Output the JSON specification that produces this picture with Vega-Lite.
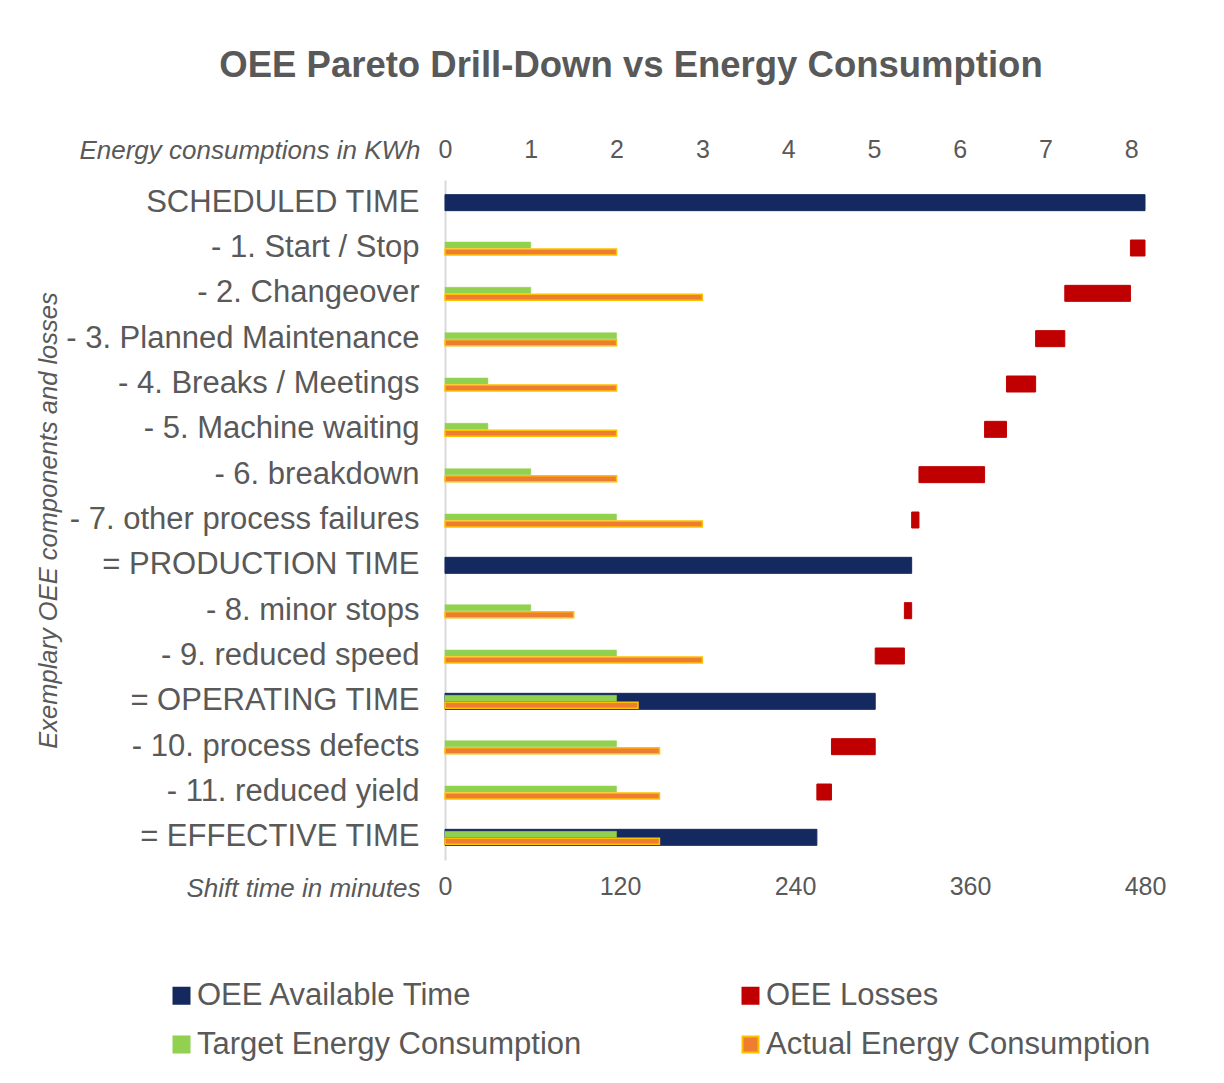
{
  "$schema": "https://vega.github.io/schema/vega-lite/v6.json",
  "autosize": {"type": "none"},
  "width": 700,
  "height": 680,
  "padding": {"left": 445, "top": 180, "right": 79, "bottom": 223},
  "background": "white",
  "title": {
    "text": "OEE Pareto Drill-Down vs Energy Consumption",
    "anchor": "middle",
    "frame": "group",
    "dx": -164,
    "offset": 53,
    "fontSize": 36.5,
    "font": "Liberation Sans",
    "fontWeight": "bold",
    "color": "#595959"
  },
  "config": {
    "view": {"stroke": null},
    "font": "Liberation Sans",
    "axis": {"labelColor": "#595959", "titleColor": "#595959", "grid": false, "labelFont": "Liberation Sans", "titleFont": "Liberation Sans"},
    "legend": {"labelFont": "Liberation Sans"}
  },
  "datasets": {
    "time": [
      {"cat": "SCHEDULED TIME", "series": "OEE Available Time", "start": 0, "end": 480},
      {"cat": "- 1. Start / Stop", "series": "OEE Losses", "start": 470, "end": 480},
      {"cat": "- 2. Changeover", "series": "OEE Losses", "start": 425, "end": 470},
      {"cat": "- 3. Planned Maintenance", "series": "OEE Losses", "start": 405, "end": 425},
      {"cat": "- 4. Breaks / Meetings", "series": "OEE Losses", "start": 385, "end": 405},
      {"cat": "- 5. Machine waiting", "series": "OEE Losses", "start": 370, "end": 385},
      {"cat": "- 6. breakdown", "series": "OEE Losses", "start": 325, "end": 370},
      {"cat": "- 7. other process failures", "series": "OEE Losses", "start": 320, "end": 325},
      {"cat": "= PRODUCTION TIME", "series": "OEE Available Time", "start": 0, "end": 320},
      {"cat": "- 8. minor stops", "series": "OEE Losses", "start": 315, "end": 320},
      {"cat": "- 9. reduced speed", "series": "OEE Losses", "start": 295, "end": 315},
      {"cat": "= OPERATING TIME", "series": "OEE Available Time", "start": 0, "end": 295},
      {"cat": "- 10. process defects", "series": "OEE Losses", "start": 265, "end": 295},
      {"cat": "- 11. reduced yield", "series": "OEE Losses", "start": 255, "end": 265},
      {"cat": "= EFFECTIVE TIME", "series": "OEE Available Time", "start": 0, "end": 255}
    ],
    "energy": [
      {"cat": "- 1. Start / Stop", "series": "Target Energy Consumption", "kwh": 1},
      {"cat": "- 1. Start / Stop", "series": "Actual Energy Consumption", "kwh": 2},
      {"cat": "- 2. Changeover", "series": "Target Energy Consumption", "kwh": 1},
      {"cat": "- 2. Changeover", "series": "Actual Energy Consumption", "kwh": 3},
      {"cat": "- 3. Planned Maintenance", "series": "Target Energy Consumption", "kwh": 2},
      {"cat": "- 3. Planned Maintenance", "series": "Actual Energy Consumption", "kwh": 2},
      {"cat": "- 4. Breaks / Meetings", "series": "Target Energy Consumption", "kwh": 0.5},
      {"cat": "- 4. Breaks / Meetings", "series": "Actual Energy Consumption", "kwh": 2},
      {"cat": "- 5. Machine waiting", "series": "Target Energy Consumption", "kwh": 0.5},
      {"cat": "- 5. Machine waiting", "series": "Actual Energy Consumption", "kwh": 2},
      {"cat": "- 6. breakdown", "series": "Target Energy Consumption", "kwh": 1},
      {"cat": "- 6. breakdown", "series": "Actual Energy Consumption", "kwh": 2},
      {"cat": "- 7. other process failures", "series": "Target Energy Consumption", "kwh": 2},
      {"cat": "- 7. other process failures", "series": "Actual Energy Consumption", "kwh": 3},
      {"cat": "- 8. minor stops", "series": "Target Energy Consumption", "kwh": 1},
      {"cat": "- 8. minor stops", "series": "Actual Energy Consumption", "kwh": 1.5},
      {"cat": "- 9. reduced speed", "series": "Target Energy Consumption", "kwh": 2},
      {"cat": "- 9. reduced speed", "series": "Actual Energy Consumption", "kwh": 3},
      {"cat": "= OPERATING TIME", "series": "Target Energy Consumption", "kwh": 2},
      {"cat": "= OPERATING TIME", "series": "Actual Energy Consumption", "kwh": 2.25},
      {"cat": "- 10. process defects", "series": "Target Energy Consumption", "kwh": 2},
      {"cat": "- 10. process defects", "series": "Actual Energy Consumption", "kwh": 2.5},
      {"cat": "- 11. reduced yield", "series": "Target Energy Consumption", "kwh": 2},
      {"cat": "- 11. reduced yield", "series": "Actual Energy Consumption", "kwh": 2.5},
      {"cat": "= EFFECTIVE TIME", "series": "Target Energy Consumption", "kwh": 2},
      {"cat": "= EFFECTIVE TIME", "series": "Actual Energy Consumption", "kwh": 2.5}
    ]
  },
  "encoding": {
    "y": {
      "field": "cat",
      "type": "nominal",
      "scale": {
        "domain": ["SCHEDULED TIME", "- 1. Start / Stop", "- 2. Changeover", "- 3. Planned Maintenance", "- 4. Breaks / Meetings", "- 5. Machine waiting", "- 6. breakdown", "- 7. other process failures", "= PRODUCTION TIME", "- 8. minor stops", "- 9. reduced speed", "= OPERATING TIME", "- 10. process defects", "- 11. reduced yield", "= EFFECTIVE TIME"],
        "paddingInner": 0,
        "paddingOuter": 0
      },
      "axis": {
        "domain": true,
        "domainColor": "#D9D9D9",
        "domainWidth": 2,
        "ticks": false,
        "tickSize": 0,
        "labelPadding": 26,
        "labelFontSize": 31,
        "labelLimit": 600,
        "labelColor": "#595959",
        "title": "Exemplary OEE components and losses",
        "titleFontStyle": "italic",
        "titleFontWeight": "normal",
        "titleFontSize": 25.5,
        "titleColor": "#595959",
        "titleX": -397,
        "titleY": 340,
        "titleAngle": -90,
        "titleAlign": "center",
        "titleBaseline": "middle"
      }
    },
    "fill": {
      "field": "series",
      "type": "nominal",
      "scale": {
        "domain": ["OEE Available Time", "Target Energy Consumption", "OEE Losses", "Actual Energy Consumption"],
        "range": ["#14295F", "#92D050", "#C00000", "#ED7D31"]
      },
      "legend": {
        "orient": "none",
        "legendX": -279,
        "legendY": 800,
        "columns": 2,
        "columnPadding": 153,
        "rowPadding": 17,
        "symbolType": "square",
        "symbolSize": 256,
        "symbolStrokeWidth": 2,
        "labelFontSize": 31,
        "labelColor": "#595959",
        "labelLimit": 600,
        "labelOffset": 0,
        "title": null
      }
    },
    "stroke": {
      "field": "series",
      "type": "nominal",
      "scale": {
        "domain": ["OEE Available Time", "Target Energy Consumption", "OEE Losses", "Actual Energy Consumption"],
        "range": ["#14295F", "#92D050", "#C00000", "#FFC000"]
      },
      "legend": {
        "orient": "none",
        "legendX": -279,
        "legendY": 800,
        "columns": 2,
        "columnPadding": 153,
        "rowPadding": 17,
        "symbolType": "square",
        "symbolSize": 256,
        "symbolStrokeWidth": 2,
        "labelFontSize": 31,
        "labelColor": "#595959",
        "labelLimit": 600,
        "labelOffset": 0,
        "title": null
      }
    }
  },
  "layer": [
    {
      "data": {"name": "time"},
      "mark": {"type": "bar", "size": 16, "strokeWidth": 1},
      "encoding": {
        "x": {
          "field": "start",
          "type": "quantitative",
          "scale": {"domain": [0, 480], "nice": false},
          "axis": {
            "orient": "bottom",
            "values": [0, 120, 240, 360, 480],
            "domain": false,
            "ticks": false,
            "tickSize": 0,
            "labelFlush": false,
            "labelPadding": 14,
            "labelFontSize": 25,
            "labelColor": "#595959",
            "title": "Shift time in minutes",
            "titleFontStyle": "italic",
            "titleFontWeight": "normal",
            "titleFontSize": 26,
            "titleColor": "#595959",
            "titleX": -25,
            "titleY": 28,
            "titleAngle": 0,
            "titleAlign": "right",
            "titleBaseline": "middle"
          }
        },
        "x2": {"field": "end"}
      }
    },
    {
      "data": {"name": "energy"},
      "transform": [{"filter": "datum.series === 'Target Energy Consumption'"}],
      "mark": {"type": "bar", "size": 6, "yOffset": -3, "strokeWidth": 0.5},
      "encoding": {
        "x": {
          "field": "kwh",
          "type": "quantitative",
          "scale": {"domain": [0, 8.16], "nice": false},
          "axis": {
            "orient": "top",
            "values": [0, 1, 2, 3, 4, 5, 6, 7, 8],
            "domain": false,
            "ticks": false,
            "tickSize": 0,
            "labelFlush": false,
            "labelPadding": 18,
            "labelFontSize": 25,
            "labelColor": "#595959",
            "title": "Energy consumptions in KWh",
            "titleFontStyle": "italic",
            "titleFontWeight": "normal",
            "titleFontSize": 26,
            "titleColor": "#595959",
            "titleX": -25,
            "titleY": -30,
            "titleAngle": 0,
            "titleAlign": "right",
            "titleBaseline": "middle"
          }
        }
      }
    },
    {
      "data": {"name": "energy"},
      "transform": [{"filter": "datum.series === 'Actual Energy Consumption'"}],
      "mark": {"type": "bar", "size": 6, "yOffset": 4, "strokeWidth": 1.5},
      "encoding": {
        "x": {
          "field": "kwh",
          "type": "quantitative",
          "scale": {"domain": [0, 8.16], "nice": false},
          "axis": null
        }
      }
    }
  ],
  "resolve": {"scale": {"x": "independent"}}
}
